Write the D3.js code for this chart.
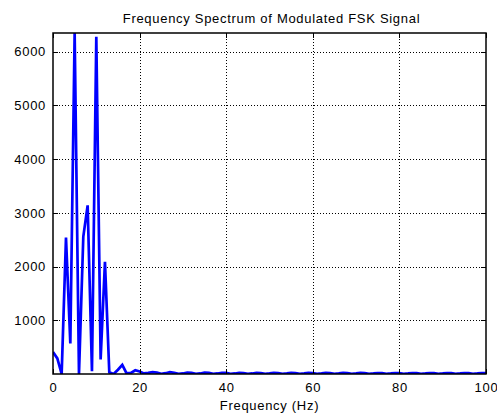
<!DOCTYPE html>
<html>
<head>
<meta charset="utf-8">
<script src="https://cdn.jsdelivr.net/npm/d3@7"></script>
<style>
  html, body { margin: 0; padding: 0; background: #fff; }
  svg { display: block; font-family: "Liberation Sans", Arial, sans-serif; }
  svg text { letter-spacing: 0.7px; }
  .grid line { stroke: #000; stroke-width: 1; stroke-dasharray: 1,2; shape-rendering: crispEdges; }
  .axis path { display: none; }
  .axis line { stroke: #000; shape-rendering: crispEdges; }
  .axis text { font-size: 13px; fill: #000; }
  .spectrum { fill: none; stroke: #0000ff; stroke-width: 2.7; }
</style>
</head>
<body>
<svg id="chart" width="497" height="414"></svg>
<script>
const title = 'Frequency Spectrum of Modulated FSK Signal';
const xLabel = 'Frequency (Hz)';

// one FFT bin per Hz, starting at 0 Hz
const binHz = 1;
const magnitude = [
  410, 290, 0, 2540, 570, 6350, 0, 2560, 3140, 50,
  6280, 270, 2090, 30, 0, 80, 170, 10, 20, 70,
  45, 10, 20, 35, 25, 5, 15, 35, 20, 5,
  10, 25, 20, 5, 10, 25, 20, 5, 10, 22,
  20, 5, 10, 22, 18, 5, 10, 22, 18, 5,
  10, 20, 18, 5, 10, 20, 18, 5, 10, 20,
  16, 5, 10, 20, 16, 5, 10, 20, 16, 5,
  10, 20, 16, 5, 10, 18, 16, 5, 10, 18,
  15, 5, 10, 18, 15, 5, 10, 18, 15, 5,
  10, 18, 15, 5, 10, 18, 15, 5, 10, 18,
  15
];

const xTicks = [0, 20, 40, 60, 80, 100];
const yTicks = [1000, 2000, 3000, 4000, 5000, 6000];
const xDomain = [0, 100];
const yDomain = [0, 6350];

// plot box in pixels
const box = { x0: 53, x1: 486, y0: 33, y1: 374 };

let drawSpectrum = (canvas) => {
  const svg = d3.select(canvas);

  const x = d3.scaleLinear().domain(xDomain).range([box.x0, box.x1]);
  const y = d3.scaleLinear().domain(yDomain).range([box.y1, box.y0]);

  const points = magnitude.map((m, i) => ({ f: i * binHz, m }));

  // dotted grid
  const grid = svg.append('g').attr('class', 'grid');
  grid.selectAll('line.gx')
    .data(xTicks.filter(t => t > xDomain[0] && t < xDomain[1]))
    .join('line')
      .attr('class', 'gx')
      .attr('x1', d => Math.round(x(d)) + 0.5)
      .attr('x2', d => Math.round(x(d)) + 0.5)
      .attr('y1', box.y0)
      .attr('y2', box.y1);
  grid.selectAll('line.gy')
    .data(yTicks)
    .join('line')
      .attr('class', 'gy')
      .attr('y1', d => Math.round(y(d)) + 0.5)
      .attr('y2', d => Math.round(y(d)) + 0.5)
      .attr('x1', box.x0)
      .attr('x2', box.x1);

  svg.append('clipPath')
      .attr('id', 'plot-clip')
    .append('rect')
      .attr('x', box.x0)
      .attr('y', box.y0)
      .attr('width', box.x1 - box.x0)
      .attr('height', box.y1 - box.y0);

  svg.append('path')
      .datum(points)
      .attr('class', 'spectrum')
      .attr('clip-path', 'url(#plot-clip)')
      .attr('d', d3.line()
          .x(d => x(d.f))
          .y(d => y(d.m)));

  // axes, ticks pointing inward like matlab
  svg.append('g')
      .attr('class', 'axis')
      .attr('transform', `translate(0,${box.y1})`)
      .call(d3.axisBottom(x).tickValues(xTicks).tickSize(-5).tickPadding(9));

  svg.append('g')
      .attr('class', 'axis')
      .attr('transform', `translate(${box.x0},0)`)
      .call(d3.axisLeft(y).tickValues(yTicks).tickFormat(d3.format('d'))
          .tickSize(-5).tickPadding(7));

  svg.append('g')
      .attr('class', 'axis')
      .attr('transform', `translate(0,${box.y0})`)
      .call(d3.axisTop(x).tickValues(xTicks).tickSize(-5).tickFormat(''));

  svg.append('g')
      .attr('class', 'axis')
      .attr('transform', `translate(${box.x1},0)`)
      .call(d3.axisRight(y).tickValues(yTicks).tickSize(-5).tickFormat(''));

  svg.append('rect')
      .attr('x', box.x0)
      .attr('y', box.y0)
      .attr('width', box.x1 - box.x0)
      .attr('height', box.y1 - box.y0)
      .attr('fill', 'none')
      .attr('stroke', '#000')
      .attr('stroke-width', 1.5);

  svg.append('text')
      .attr('x', (box.x0 + box.x1) / 2 + 2)
      .attr('y', 23)
      .attr('text-anchor', 'middle')
      .attr('font-size', 13)
      .text(title);

  svg.append('text')
      .attr('x', (box.x0 + box.x1) / 2)
      .attr('y', 410)
      .attr('text-anchor', 'middle')
      .attr('font-size', 13)
      .text(xLabel);
};

drawSpectrum(document.getElementById('chart'));
</script>
</body>
</html>
